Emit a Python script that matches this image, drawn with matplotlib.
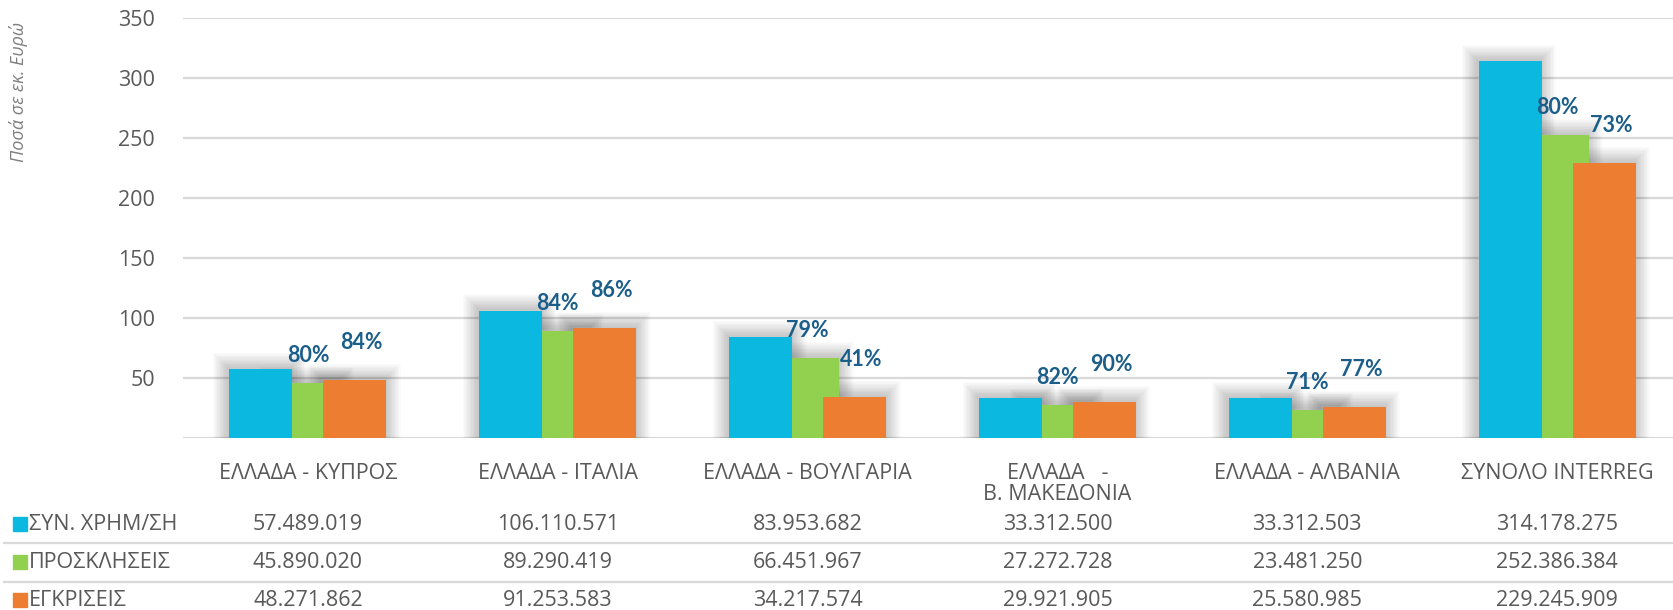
import matplotlib.pyplot as plt
import matplotlib.patheffects as pe
import matplotlib.transforms as mtransforms
import numpy as np

plt.rcParams['font.family'] = ['Open Sans', 'DejaVu Sans']

# δεδομένα (ευρώ)
categories = ["ΕΛΛΑΔΑ - ΚΥΠΡΟΣ", "ΕΛΛΑΔΑ - ΙΤΑΛΙΑ", "ΕΛΛΑΔΑ - ΒΟΥΛΓΑΡΙΑ",
              "ΕΛΛΑΔΑ   -\nΒ. ΜΑΚΕΔΟΝΙΑ", "ΕΛΛΑΔΑ - ΑΛΒΑΝΙΑ", "ΣΥΝΟΛΟ INTERREG"]
series_names = ["ΣΥΝ. ΧΡΗΜ/ΣΗ", "ΠΡΟΣΚΛΗΣΕΙΣ", "ΕΓΚΡΙΣΕΙΣ"]
funding = [57489019, 106110571, 83953682, 33312500, 33312503, 314178275]
calls = [45890020, 89290419, 66451967, 27272728, 23481250, 252386384]
approvals = [48271862, 91253583, 34217574, 29921905, 25580985, 229245909]
pct_calls = ["80%", "84%", "79%", "82%", "71%", "80%"]
pct_approvals = ["84%", "86%", "41%", "90%", "77%", "73%"]
yticks = [50, 100, 150, 200, 250, 300, 350]

colors = ["#0BB8E0", "#92D050", "#ED7D31"]
gray_txt = "#595959"
grid_col = "#D9D9D9"
pct_col = "#1B5E8A"
fs = 15.5

W, H = 1673, 610
fig = plt.figure(figsize=(W / 100, H / 100), dpi=100)
ax = fig.add_axes([183 / W, 172 / H, 1499 / W, 420 / H])

x = np.arange(len(categories))
width = 0.252
offs = [-0.188, 0.0, 0.188]
zs = [3, 2, 3]
# απαλή σκιά: πολλές διάφανες γραμμές
shadow = [pe.Stroke(linewidth=lw, foreground="#000000", alpha=0.018, offset=(-1, 1))
          for lw in range(22, 0, -2)] + [pe.Normal()]

for i, vals in enumerate([funding, calls, approvals]):
    v = np.array(vals) / 1e6
    sh = ax.bar(x + offs[i], v, width, color="#FFFFFF", zorder=1.5, linewidth=0)
    for b in sh:
        b.set_path_effects(shadow)
    ax.bar(x + offs[i], v, width, color=colors[i], zorder=zs[i], linewidth=0)

# ποσοστά
for i in range(len(categories)):
    ax.annotate(pct_calls[i], (x[i] + offs[1], calls[i] / 1e6), xytext=(0, 20),
                textcoords="offset points", ha="center", va="center", family="Lato",
                fontsize=15.5, fontweight="bold", color=pct_col, zorder=5)
    ax.annotate(pct_approvals[i], (x[i] + offs[2], approvals[i] / 1e6), xytext=(5, 27),
                textcoords="offset points", ha="center", va="center", family="Lato",
                fontsize=15.5, fontweight="bold", color=pct_col, zorder=5)

ax.set_xlim(-0.5, 5.5)
ax.set_ylim(0, 350)
ax.set_yticks(yticks)
ax.set_yticklabels([str(t) for t in yticks], fontsize=fs, color=gray_txt)
ax.yaxis.grid(True, color=grid_col, linewidth=1.6, zorder=0)
ax.axhline(0, color=grid_col, linewidth=1.6, zorder=1)
ax.set_axisbelow(True)
ax.tick_params(axis="y", length=0, pad=20)
ax.set_xticks(x)
ax.set_xticklabels(categories, fontsize=fs, color=gray_txt, linespacing=1.0)
ax.tick_params(axis="x", length=0, pad=18)
for s in ax.spines.values():
    s.set_visible(False)

fig.text(19 / W, 1 - 92 / H, "Ποσά σε εκ. Ευρώ", rotation=90, ha="center", va="center",
         fontsize=13, style="italic", color="#7F7F7F")

# πίνακας δεδομένων κάτω από το γράφημα
trans = mtransforms.blended_transform_factory(ax.transData, fig.transFigure)
row_y = [524, 562, 600]
for r, vals in enumerate([funding, calls, approvals]):
    yf = 1 - row_y[r] / H
    for i, v in enumerate(vals):
        ax.text(x[i], yf, f"{v:,}".replace(",", "."), transform=trans, ha="center",
                va="center", fontsize=fs, color=gray_txt, clip_on=False)
    fig.patches.append(plt.Rectangle((13 / W, yf - 7 / H), 14 / W, 14 / H,
                                     color=colors[r], transform=fig.transFigure))
    fig.text(29 / W, yf, series_names[r], ha="left", va="center", fontsize=fs, color=gray_txt)

for ly in [543, 582]:
    fig.add_artist(plt.Line2D([4 / W, 1], [1 - ly / H, 1 - ly / H], color=grid_col,
                              linewidth=1.6, transform=fig.transFigure))

fig.savefig("out.png", dpi=100)
